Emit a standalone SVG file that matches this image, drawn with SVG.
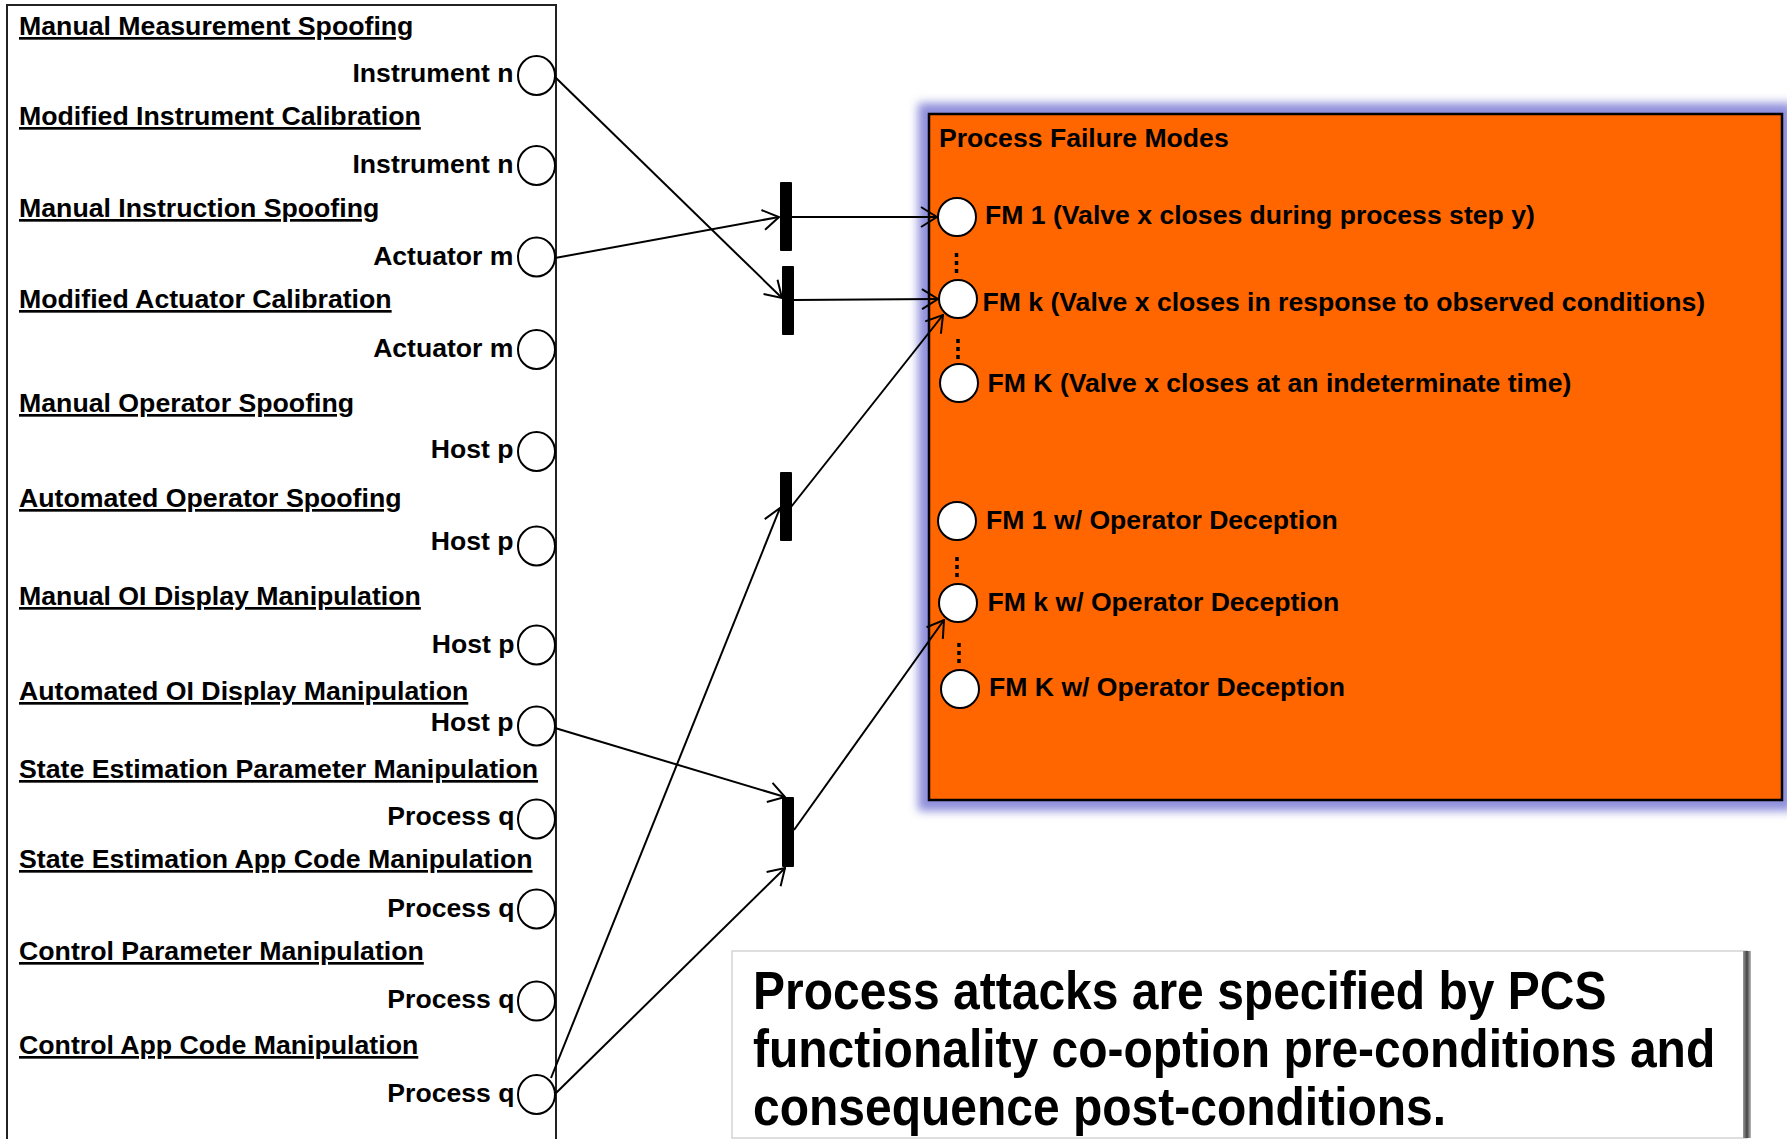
<svg xmlns="http://www.w3.org/2000/svg" width="1787" height="1139" viewBox="0 0 1787 1139">
  <style>
    text { font-family: "Liberation Sans", Arial, sans-serif; font-weight: bold; fill: #000; }
    .head { font-size: 26.7px; text-decoration: underline; text-decoration-skip-ink: none; }
    .port { font-size: 26.6px; text-anchor: end; }
    .fm { font-size: 26.6px; }
    .note { font-size: 48px; }
    .pin { fill: #fff; stroke: #000; stroke-width: 2; }
    .bar { fill: #000; }
    .dots { stroke: #000; stroke-width: 3.5; stroke-dasharray: 4 4; fill: none; }
    .edge { stroke: #000; stroke-width: 2; fill: none; marker-end: url(#arrow); }
  </style>
  <defs>
    <marker id="arrow" viewBox="0 0 18 22" refX="17" refY="11" markerWidth="18" markerHeight="22" markerUnits="userSpaceOnUse" orient="auto">
      <path d="M1,1 L17,11 L1,21" fill="none" stroke="#000" stroke-width="2"/>
    </marker>
    <filter id="glow" x="-10%" y="-10%" width="120%" height="120%">
      <feGaussianBlur stdDeviation="5"/>
    </filter>
    <filter id="soft" x="-50%" y="-5%" width="200%" height="110%">
      <feGaussianBlur stdDeviation="1.5"/>
    </filter>
    <linearGradient id="rshade" x1="0" y1="0" x2="1" y2="0">
      <stop offset="0" stop-color="#9a9a9a"/>
      <stop offset="0.5" stop-color="#444"/>
      <stop offset="1" stop-color="#bbb"/>
    </linearGradient>
  </defs>

  <rect width="1787" height="1139" fill="#fff"/>

  <!-- attack catalogue panel -->
  <g id="attack-panel">
    <rect x="7" y="5" width="549" height="1150" fill="#fff" stroke="#222" stroke-width="2"/>
    <text class="head" x="19" y="35">Manual Measurement Spoofing</text>
    <text class="head" x="19" y="125">Modified Instrument Calibration</text>
    <text class="head" x="19" y="217">Manual Instruction Spoofing</text>
    <text class="head" x="19" y="308">Modified Actuator Calibration</text>
    <text class="head" x="19" y="412">Manual Operator Spoofing</text>
    <text class="head" x="19" y="507">Automated Operator Spoofing</text>
    <text class="head" x="19" y="605">Manual OI Display Manipulation</text>
    <text class="head" x="19" y="700">Automated OI Display Manipulation</text>
    <text class="head" x="19" y="778">State Estimation Parameter Manipulation</text>
    <text class="head" x="19" y="868">State Estimation App Code Manipulation</text>
    <text class="head" x="19" y="960">Control Parameter Manipulation</text>
    <text class="head" x="19" y="1054">Control App Code Manipulation</text>
  </g>

  <!-- attack ports -->
  <g id="port-instrument-1"><text class="port" x="513.5" y="82">Instrument n</text><ellipse class="pin" cx="536.5" cy="75.5" rx="18.5" ry="19.5"/></g>
  <g id="port-instrument-2"><text class="port" x="513.5" y="173">Instrument n</text><ellipse class="pin" cx="536.5" cy="165.5" rx="18.5" ry="19.5"/></g>
  <g id="port-actuator-1"><text class="port" x="513.5" y="265">Actuator m</text><ellipse class="pin" cx="536.5" cy="257" rx="18.5" ry="19.5"/></g>
  <g id="port-actuator-2"><text class="port" x="513.5" y="357">Actuator m</text><ellipse class="pin" cx="536.5" cy="349.5" rx="18.5" ry="19.5"/></g>
  <g id="port-host-1"><text class="port" x="513.5" y="458">Host p</text><ellipse class="pin" cx="536.5" cy="451.5" rx="18.5" ry="19.5"/></g>
  <g id="port-host-2"><text class="port" x="513.5" y="550">Host p</text><ellipse class="pin" cx="536.5" cy="546" rx="18.5" ry="19.5"/></g>
  <g id="port-host-3"><text class="port" x="514.5" y="653">Host p</text><ellipse class="pin" cx="536.5" cy="645" rx="18.5" ry="19.5"/></g>
  <g id="port-host-4"><text class="port" x="513.5" y="731">Host p</text><ellipse class="pin" cx="536.5" cy="726" rx="18.5" ry="19.5"/></g>
  <g id="port-process-1"><text class="port" x="514.5" y="825">Process q</text><ellipse class="pin" cx="536.5" cy="819" rx="18.5" ry="19.5"/></g>
  <g id="port-process-2"><text class="port" x="514.5" y="917">Process q</text><ellipse class="pin" cx="536.5" cy="909" rx="18.5" ry="19.5"/></g>
  <g id="port-process-3"><text class="port" x="514.5" y="1008">Process q</text><ellipse class="pin" cx="536.5" cy="1001" rx="18.5" ry="19.5"/></g>
  <g id="port-process-4"><text class="port" x="514.5" y="1102">Process q</text><ellipse class="pin" cx="536.5" cy="1094.5" rx="18.5" ry="19.5"/></g>

  <!-- joining transitions -->
  <g id="transition-1"><rect class="bar" x="780" y="182" width="12" height="69" rx="1"/></g>
  <g id="transition-2"><rect class="bar" x="782" y="266" width="12" height="69" rx="1"/></g>
  <g id="transition-3"><rect class="bar" x="780" y="472" width="12" height="69" rx="1"/></g>
  <g id="transition-4"><rect class="bar" x="782" y="797" width="12" height="70" rx="1"/></g>

  <!-- failure mode panel -->
  <g id="failure-modes">
    <rect x="918" y="103" width="875" height="708" fill="#8e8edc" filter="url(#glow)"/>
    <rect x="929" y="114" width="853" height="686" fill="#ff6600" stroke="#000" stroke-width="2.5"/>
    <text class="fm" x="939" y="146.5">Process Failure Modes</text>
  </g>

  <g id="fm-1"><circle class="pin" cx="957" cy="217" r="19"/><text class="fm" x="985" y="223.5">FM 1 (Valve x closes during process step y)</text></g>
  <g id="fm-k"><circle class="pin" cx="958" cy="299" r="19"/><text class="fm" x="982.5" y="311">FM k (Valve x closes in response to observed conditions)</text></g>
  <g id="fm-K"><circle class="pin" cx="959" cy="383" r="19"/><text class="fm" x="987.5" y="392">FM K (Valve x closes at an indeterminate time)</text></g>
  <g id="fm-1-deception"><circle class="pin" cx="957" cy="521" r="19"/><text class="fm" x="986" y="528.5">FM 1 w/ Operator Deception</text></g>
  <g id="fm-k-deception"><circle class="pin" cx="958" cy="603" r="19"/><text class="fm" x="987.5" y="610.5">FM k w/ Operator Deception</text></g>
  <g id="fm-K-deception"><circle class="pin" cx="960" cy="689" r="19"/><text class="fm" x="989" y="696">FM K w/ Operator Deception</text></g>

  <g id="ellipses">
    <line class="dots" x1="956.5" y1="253" x2="956.5" y2="273"/>
    <line class="dots" x1="958" y1="339" x2="958" y2="359"/>
    <line class="dots" x1="957" y1="557" x2="957" y2="577"/>
    <line class="dots" x1="959" y1="643" x2="959" y2="663"/>
  </g>

  <!-- arcs between ports, transitions and failure modes -->
  <g id="connectors">
    <line class="edge" x1="555" y1="77" x2="782" y2="298"/>
    <line class="edge" x1="555" y1="258" x2="779" y2="217"/>
    <line class="edge" x1="792" y1="217" x2="937" y2="217"/>
    <line class="edge" x1="794" y1="300" x2="938" y2="299"/>
    <line class="edge" x1="791" y1="507" x2="943" y2="315"/>
    <line class="edge" x1="551" y1="1078" x2="780" y2="508"/>
    <line class="edge" x1="555" y1="728" x2="785" y2="797"/>
    <line class="edge" x1="556" y1="1093" x2="785" y2="868"/>
    <line class="edge" x1="794" y1="830" x2="944" y2="620"/>
  </g>

  <!-- summary callout -->
  <g id="summary-note">
    <rect x="732" y="951" width="1015" height="187" fill="#fff" stroke="#d4d4d4" stroke-width="1.5"/>
    <line x1="733.5" y1="952" x2="733.5" y2="1138" stroke="#8c8c8c" stroke-width="3" filter="url(#soft)"/>
    <rect x="1743" y="951" width="8" height="187" fill="url(#rshade)"/>
    <text class="note" transform="translate(753 1009) scale(1 1.1)">Process attacks are specified by PCS</text>
    <text class="note" transform="translate(753 1067) scale(1 1.1)">functionality co-option pre-conditions and</text>
    <text class="note" transform="translate(753 1125) scale(1 1.1)">consequence post-conditions.</text>
  </g>
</svg>
